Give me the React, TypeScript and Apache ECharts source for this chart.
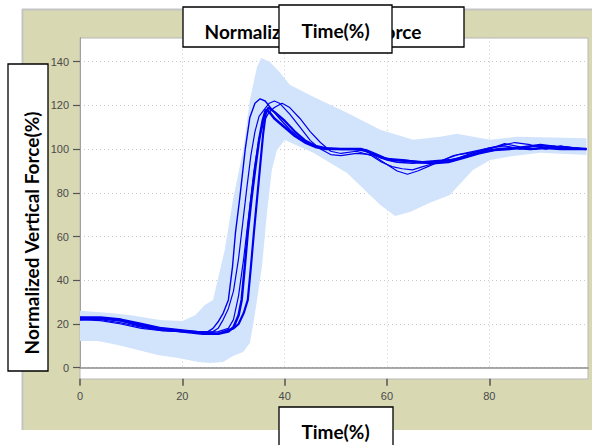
import React, { useEffect, useRef } from "react";
import * as echarts from "echarts";

const xTickValues = [0, 20, 40, 60, 80];
const yTickValues = [0, 20, 40, 60, 80, 100, 120, 140];

const bandUpper: number[][] = [
  [0, 26], [5.9, 25], [10, 24], [15.6, 21.8], [20, 21.4], [22.5, 24], [24.4, 28.7], [26, 31],
  [28.3, 54], [29.9, 76.8], [31.9, 99.6], [33.2, 122.5], [34.6, 137.6], [35.4, 141.7], [37.1, 140],
  [39.1, 135], [41, 129.4], [45.6, 123.9], [52.2, 116.6], [58.7, 108.8], [65.1, 104.3], [70.4, 105.6],
  [73.7, 107], [80.2, 104.3], [85.4, 105.6], [99, 105],
];
const bandLower: number[][] = [
  [0, 12.2], [3.5, 12.2], [7.4, 10.4], [11.3, 8.1], [15.2, 5.8], [19.2, 4.4], [23.1, 2.6], [25.4, 2.1],
  [28, 2.6], [29.9, 5.4], [31.9, 7.2], [33.2, 11.3], [34, 21.8], [34.6, 31], [35.6, 47], [36.6, 72],
  [37.5, 90.4], [38.5, 99.6], [40, 104.2], [45.6, 98.3], [52.2, 89.1], [58.7, 74.4], [61.6, 69.4],
  [64.5, 71.2], [68.4, 75.4], [72.3, 79], [76.8, 90.4], [80.2, 95], [83.5, 96.4], [89.9, 98.3], [99, 97.3],
];

const line1: number[][] = [
  [0, 23], [4, 22.5], [8, 21.5], [12, 19.5], [16, 18], [20, 17], [23, 16.5], [25, 16.5], [26, 18], [27, 21],
  [28, 25], [29, 31], [29.8, 46], [30.4, 62], [31.2, 77], [32.3, 100], [33.2, 114.5], [34.2, 121], [35.2, 123],
  [36.2, 122], [37.2, 119], [39, 114], [41, 109], [43, 105], [45, 102], [47, 100.5], [50, 100], [53, 100],
  [56, 99], [58, 97], [60, 95], [62, 94], [65, 93.5], [68, 94], [71, 94.5], [74, 96], [77, 98.5], [80, 100.5],
  [83, 101.5], [86, 100], [89, 101.5], [92, 100.5], [95, 101], [99, 100],
];
const line2: number[][] = [
  [0, 22.5], [4, 22], [8, 20.5], [12, 18.5], [16, 17], [20, 16.5], [23, 16], [26, 16.5], [27, 18], [28, 22],
  [29, 27], [30, 35], [31, 50], [31.8, 66], [32.6, 82], [33.4, 97], [34.2, 108], [35, 115], [36, 118],
  [37, 121], [38, 122], [39, 121], [41, 116], [43, 110], [45, 104], [47, 100], [49, 97.5], [51, 97], [54, 98],
  [57, 97.5], [60, 93], [62, 90], [64, 88.5], [66, 90], [68, 92], [71, 95], [74, 97.5], [77, 98.5], [80, 100],
  [83, 102.5], [86, 101], [89, 100], [92, 101.5], [95, 101], [99, 100],
];
const line3: number[][] = [
  [0, 23], [4, 23], [8, 22], [12, 20], [16, 18], [20, 17], [24, 16], [27, 15.5], [29, 16.5], [30, 18.5],
  [31, 24], [31.6, 31], [32.2, 46], [32.8, 62], [33.5, 77], [34.3, 92], [35, 104], [35.7, 113], [36.3, 118],
  [37, 117], [38, 114], [40, 110], [42, 106], [44, 103], [46, 101], [48, 100], [51, 100], [53, 100], [55, 100],
  [57, 98], [59, 96], [61, 95], [64, 94.5], [67, 94], [70, 94.5], [73, 95], [76, 97], [79, 99], [82, 100],
  [85, 100.5], [88, 100], [91, 100.5], [94, 100], [99, 100],
];
const line4: number[][] = [
  [0, 22], [4, 22.5], [8, 21.5], [12, 19], [16, 17.5], [20, 16.5], [24, 15.5], [27, 15.5], [28.7, 17], [30, 18],
  [31, 20], [32, 25], [32.8, 31], [33.4, 46], [34, 62], [34.6, 77], [35.2, 92], [35.8, 107], [36.3, 116],
  [36.8, 119], [38, 117], [40, 113], [42, 108], [44, 104], [46, 101.5], [48, 100.5], [51, 100], [54, 100],
  [56, 99.5], [58, 97.5], [60, 95.5], [63, 95], [66, 94], [69, 93.5], [72, 94], [75, 96], [78, 98], [81, 99.5],
  [84, 100], [87, 101], [90, 102], [93, 101], [96, 100.5], [99, 100],
];
const line5: number[][] = [
  [0, 22], [4, 21.5], [8, 20], [12, 18], [16, 17], [20, 16.5], [24, 16], [27, 16.5], [29, 18], [30, 22],
  [31, 33], [32, 50], [33, 70], [34, 90], [35, 105], [36, 113], [37, 117], [38, 119], [39.5, 121], [41, 119],
  [43, 114], [45, 108], [47, 103], [49, 99], [51, 98], [54, 99], [57, 97], [59, 94], [61, 92], [63, 91],
  [65, 90.5], [67, 92], [70, 94], [73, 97], [76, 98.5], [79, 100], [82, 101.5], [85, 103], [88, 102], [91, 100],
  [94, 101.5], [97, 100], [99, 100],
];

const lines = [
  { data: line1, width: 1.4 },
  { data: line2, width: 1.2 },
  { data: line5, width: 1.2 },
  { data: line3, width: 2.5 },
  { data: line4, width: 2.2 },
];

const titleText = "Normalized Vertical Force";
const xTitle = "Time(%)";
const yTitle = "Normalized Vertical Force(%)";

export default function App() {
  const ref = useRef<HTMLDivElement>(null);
  useEffect(() => {
    if (!ref.current) return;
    const chart = echarts.init(ref.current, undefined, { renderer: "svg" });
    const boxFont = { fontFamily: "Lato", fontWeight: "bold" as const, fontSize: 19, fill: "#000" };
    const option: any = {
      animation: false,
      backgroundColor: "#ffffff",
      grid: { left: 80, right: 4, top: 37.6, bottom: 77.3, containLabel: false },
      xAxis: [
        {
          type: "value",
          min: 0,
          max: 99.3,
          position: "bottom",
          offset: 11,
          axisLine: { show: false, onZero: false },
          axisTick: { show: true, length: 7, customValues: xTickValues, lineStyle: { color: "#555", width: 1.5 } },
          axisLabel: {
            customValues: xTickValues,
            margin: 12,
            color: "#4a4a4a",
            fontFamily: "Liberation Sans",
            fontSize: 11,
          },
          splitLine: { show: true, lineStyle: { color: "#c8c8c8", type: [1, 3], width: 1 } },
        },
        {
          type: "value",
          min: 0,
          max: 99.3,
          position: "bottom",
          axisLine: { show: true, onZero: false, lineStyle: { color: "#8c8c8c", width: 1.5 } },
          axisTick: { show: false },
          axisLabel: { show: false },
          splitLine: { show: false },
        },
      ],
      yAxis: {
        type: "value",
        min: 0,
        max: 151,
        axisLine: { show: true, lineStyle: { color: "#a0a0a0", width: 1 } },
        axisTick: { show: true, length: 7, customValues: yTickValues, lineStyle: { color: "#555", width: 1.2 } },
        axisLabel: {
          customValues: yTickValues,
          margin: 11,
          color: "#4a4a4a",
          fontFamily: "Liberation Sans",
          fontSize: 11,
        },
        splitLine: { show: true, lineStyle: { color: "#c8c8c8", type: [1, 3], width: 1 } },
      },
      graphic: [
        { type: "rect", z: -20, shape: { x: 22, y: 9, width: 572, height: 421 }, style: { fill: "#d8d8b2" } },
        { type: "line", z: -19, shape: { x1: 22, y1: 9.5, x2: 592, y2: 9.5 }, style: { stroke: "#c4c4c4", lineWidth: 2 } },
        { type: "line", z: -19, shape: { x1: 22.5, y1: 9, x2: 22.5, y2: 430 }, style: { stroke: "#c4c4c4", lineWidth: 2 } },
        { type: "rect", z: -18, shape: { x: 80, y: 38, width: 508, height: 341 }, style: { fill: "#ffffff", stroke: "#b8b8b8", lineWidth: 1 } },
        // title box & overlapping Time box
        { type: "rect", z: 100, shape: { x: 183, y: 7, width: 281, height: 40 }, style: { fill: "#fff", stroke: "#000", lineWidth: 1.3 } },
        { type: "text", z: 101, x: 313, y: 31, style: { ...boxFont, text: titleText, textAlign: "center", textVerticalAlign: "middle" } },
        { type: "rect", z: 102, shape: { x: 279, y: 5, width: 113, height: 48 }, style: { fill: "#fff", stroke: "#000", lineWidth: 1.3 } },
        { type: "text", z: 103, x: 335.5, y: 30.5, style: { ...boxFont, text: xTitle, textAlign: "center", textVerticalAlign: "middle" } },
        // y title box
        { type: "rect", z: 100, shape: { x: 8, y: 64, width: 40, height: 307 }, style: { fill: "#fff", stroke: "#000", lineWidth: 1.3 } },
        { type: "text", z: 101, x: 31, y: 233, rotation: Math.PI / 2, style: { ...boxFont, text: yTitle, textAlign: "center", textVerticalAlign: "middle" } },
        // x title box
        { type: "rect", z: 100, shape: { x: 279, y: 407, width: 114, height: 50 }, style: { fill: "#fff", stroke: "#000", lineWidth: 1.3 } },
        { type: "text", z: 101, x: 335.5, y: 431, style: { ...boxFont, text: xTitle, textAlign: "center", textVerticalAlign: "middle" } },
      ],
      series: [
        {
          type: "custom",
          name: "band",
          xAxisIndex: 0,
          clip: false,
          silent: true,
          z: 1,
          data: [[0, 0]],
          renderItem: (_params: any, api: any) => {
            const pts: number[][] = [];
            for (const p of bandUpper) pts.push(api.coord(p));
            for (let i = bandLower.length - 1; i >= 0; i--) pts.push(api.coord(bandLower[i]));
            return { type: "polygon", shape: { points: pts }, style: { fill: "#d2e4fc" } };
          },
        },
        ...lines.map((l, i) => ({
          type: "line",
          xAxisIndex: 0,
          data: l.data,
          symbol: "none",
          z: 3 + i,
          lineStyle: { color: "#0000f0", width: l.width },
        })),
      ],
    };
    chart.setOption(option);
    return () => chart.dispose();
  }, []);
  return <div ref={ref} style={{ position: "fixed", left: 0, top: 0, width: 592, height: 445 }} />;
}
